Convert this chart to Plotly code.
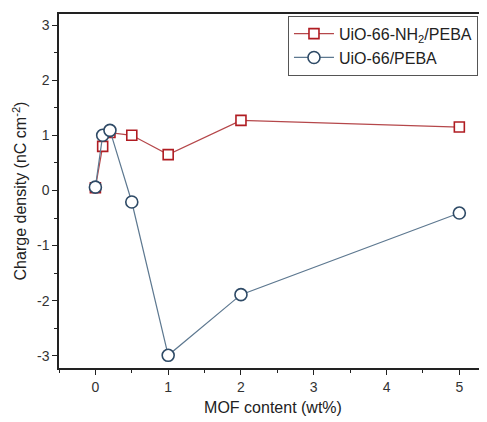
import plotly.graph_objects as go

x_vals = [0, 0.1, 0.2, 0.5, 1, 2, 5]
nh2_vals = [0.05, 0.80, 1.05, 1.00, 0.65, 1.27, 1.15]
uio_vals = [0.06, 1.00, 1.09, -0.21, -2.99, -1.89, -0.41]
x_ticks = [0, 1, 2, 3, 4, 5]
y_ticks = [-3, -2, -1, 0, 1, 2, 3]

fig = go.Figure()
fig.add_trace(go.Scatter(
    x=x_vals, y=nh2_vals, mode="lines+markers", name="UiO-66-NH<sub>2</sub>/PEBA",
    line=dict(color="#b5474a", width=1.2),
    marker=dict(symbol="square", size=10, color="white", line=dict(color="#b01c22", width=1.6)),
))
fig.add_trace(go.Scatter(
    x=x_vals, y=uio_vals, mode="lines+markers", name="UiO-66/PEBA",
    line=dict(color="#5d7890", width=1.2),
    marker=dict(symbol="circle", size=12, color="white", line=dict(color="#2e4a66", width=1.6)),
))

fig.update_layout(
    width=479, height=414,
    margin=dict(l=51, r=0, t=6, b=54),
    paper_bgcolor="white", plot_bgcolor="white",
    font=dict(family="Liberation Sans, Arial, sans-serif", color="#222222"),
    showlegend=True,
    legend=dict(x=0.535, y=0.995, xanchor="left", yanchor="top",
                bordercolor="#555555", borderwidth=1, bgcolor="white",
                font=dict(size=16), tracegroupgap=0, itemwidth=40),
)
fig.update_xaxes(
    range=[-0.5, 5.38], tickvals=x_ticks, ticktext=[str(v) for v in x_ticks],
    ticks="outside", ticklen=5, automargin=False,
    tickwidth=1.2, tickcolor="#222", showline=True, linecolor="#222", linewidth=1.5,
    mirror=True, showgrid=False, zeroline=False, tickfont=dict(size=14, color="#333"),
    minor=dict(dtick=0.5, tick0=0, ticks="outside", ticklen=3, tickcolor="#222", showgrid=False),
    title=dict(text="MOF content (wt%)", font=dict(size=16), standoff=8),
)
fig.update_yaxes(
    range=[-3.22, 3.2], tickvals=y_ticks, ticktext=[str(v) for v in y_ticks],
    ticks="outside", ticklen=5, automargin=False,
    tickwidth=1.2, tickcolor="#222", showline=True, linecolor="#222", linewidth=1.5,
    showgrid=False, zeroline=False, tickfont=dict(size=14, color="#333"),
    minor=dict(dtick=0.5, tick0=0, ticks="outside", ticklen=3, tickcolor="#222", showgrid=False),
    title=dict(text="Charge density (nC cm<sup>-2</sup>)", font=dict(size=16), standoff=6),
)

fig.write_html("out.html")
